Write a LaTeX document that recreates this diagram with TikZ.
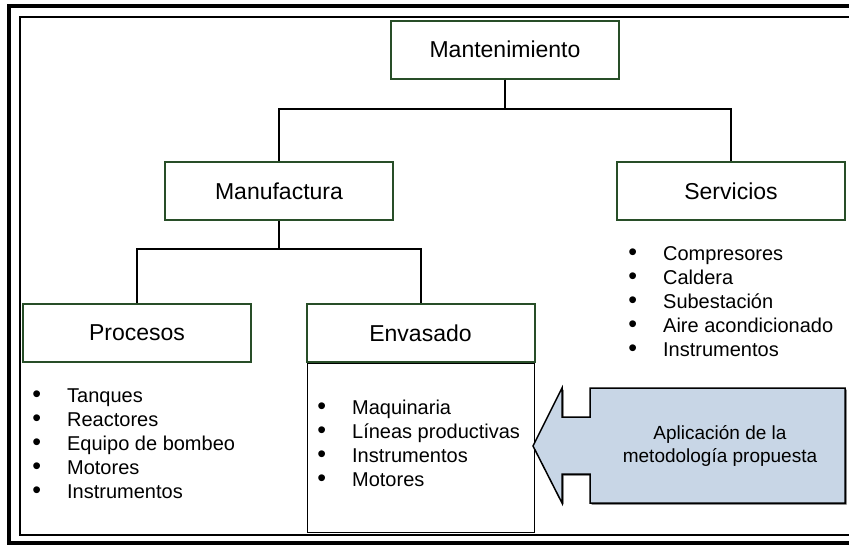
\documentclass[tikz,border=0pt]{standalone}
\usepackage{fontspec}
\setmainfont{Liberation Sans}
\definecolor{boxgreen}{RGB}{40,78,40}
\definecolor{arrowfill}{RGB}{200,214,230}
\newcommand{\listdot}{{\fontsize{12.5}{12}\selectfont •}}

\begin{document}
\begin{tikzpicture}[x=0.5pt, y=-0.5pt,
    category/.style ={draw=boxgreen, line width=1pt, fill=white, inner sep=0pt,
                      minimum width=114pt, minimum height=29pt,
                      font=\fontsize{11.5}{14}\selectfont},
    itemlist/.style ={anchor=west, inner sep=0pt, font=\fontsize{10}{12}\selectfont},
    branch/.style ={line width=1pt}]
   \useasboundingbox (0,0) rectangle (849,546);
   % frames
   \draw[line width=2pt] (9,5.5) rectangle (860,543);
   \draw[line width=1pt] (20,16.5) rectangle (856,535);
   % tree
   \node[category] (mant) at (505,49.5) {Mantenimiento};
   \node[category] (manuf) at (279,191) {Manufactura};
   \node[category] (serv) at (731,191) {Servicios};
   \node[category] (proc) at (137,333) {Procesos};
   \node[category] (env) at (420.5,333) {Envasado};
   \draw[branch] (mant.south) -- ++(0,29) -| (manuf.north);
   \draw[branch] (mant.south) -- ++(0,29) -| (serv.north);
   \draw[branch] (manuf.south) -- ++(0,28) -| (proc.north);
   \draw[branch] (manuf.south) -- ++(0,28) -| (env.north);
   \node[draw, line width=0.5pt, inner sep=0pt, anchor=north,
         minimum width=113.5pt, minimum height=84.5pt] (envbox) at (env.south) {};
   % lists
   \node[itemlist] (servlist) at (628,304) {\begin{tabular}{@{}l@{\hspace{13pt}}l@{}}
      \listdot & Compresores\\ \listdot & Caldera\\ \listdot & Subestación\\
      \listdot & Aire acondicionado\\ \listdot & Instrumentos
      \end{tabular}};
   \node[itemlist] (proclist) at (32,445.5) {\begin{tabular}{@{}l@{\hspace{13pt}}l@{}}
      \listdot & Tanques\\ \listdot & Reactores\\ \listdot & Equipo de bombeo\\
      \listdot & Motores\\ \listdot & Instrumentos
      \end{tabular}};
   \node[itemlist] (envlist) at (317,446) {\begin{tabular}{@{}l@{\hspace{13pt}}l@{}}
      \listdot & Maquinaria\\ \listdot & Líneas productivas\\ \listdot & Instrumentos\\
      \listdot & Motores
      \end{tabular}};
   % callout arrow
   \fill[black!70] (846.5,389.5) -- (591.5,389.5) -- (591.5,418.5) -- (563.5,418.5)
      -- (563.5,389.5) -- (534.5,447.5) -- (563.5,504.5) -- (563.5,475.5) -- (591.5,475.5)
      -- (591.5,504.5) -- (846.5,504.5) -- cycle;
   \draw[line width=0.75pt, fill=arrowfill] (845,388) -- (590,388) -- (590,417) -- (562,417)
      -- (562,388) -- (533,446) -- (562,503) -- (562,474) -- (590,474) -- (590,503)
      -- (845,503) -- cycle;
   \node[align=center, font=\fontsize{9.5}{11.5}\selectfont] (aplic) at (720,446)
      {Aplicación de la\\metodología propuesta};
\end{tikzpicture}
\end{document}
